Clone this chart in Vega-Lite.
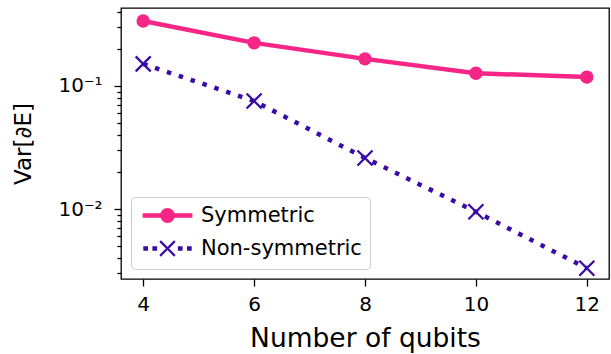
{
  "$schema": "https://vega.github.io/schema/vega-lite/v6.json",
  "autosize": "none",
  "width": 488,
  "height": 271,
  "padding": {"left": 121, "top": 8, "right": 2, "bottom": 75},
  "background": "white",
  "config": {
    "font": "DejaVu Sans",
    "view": {"stroke": "black", "strokeWidth": 1.3},
    "axis": {"domain": false, "grid": false, "tickColor": "black", "tickWidth": 1.3, "labelColor": "black", "titleColor": "black", "labelFont": "DejaVu Sans", "titleFont": "DejaVu Sans", "titleFontWeight": "normal"},
    "legend": {"labelFontSize": 21, "labelFont": "DejaVu Sans", "labelColor": "black", "labelLimit": 0, "symbolSize": 196, "symbolStrokeWidth": 2.2, "symbolOffset": 18, "labelOffset": 23, "rowPadding": 9, "padding": 8, "strokeColor": "#cccccc", "fillColor": "rgba(255,255,255,0.8)", "cornerRadius": 4, "symbolOpacity": 1}
  },
  "data": {"values": [
    {"series": "Symmetric", "qubits": 4, "var": 0.337},
    {"series": "Symmetric", "qubits": 6, "var": 0.224},
    {"series": "Symmetric", "qubits": 8, "var": 0.166},
    {"series": "Symmetric", "qubits": 10, "var": 0.127},
    {"series": "Symmetric", "qubits": 12, "var": 0.118},
    {"series": "Non-symmetric", "qubits": 4, "var": 0.151},
    {"series": "Non-symmetric", "qubits": 6, "var": 0.0755},
    {"series": "Non-symmetric", "qubits": 8, "var": 0.026},
    {"series": "Non-symmetric", "qubits": 10, "var": 0.0095},
    {"series": "Non-symmetric", "qubits": 12, "var": 0.0033}
  ]},
  "encoding": {
    "x": {"field": "qubits", "type": "quantitative",
      "scale": {"domain": [3.6, 12.4], "nice": false, "zero": false},
      "axis": {"values": [4, 6, 8, 10, 12], "title": "Number of qubits", "labelFontSize": 20, "titleFontSize": 26.5, "tickSize": 7, "labelPadding": 8, "titlePadding": 11, "labelFlush": false}},
    "y": {"field": "var", "type": "quantitative",
      "scale": {"type": "log", "domain": [0.0027, 0.43], "nice": false},
      "axis": {
        "values": [0.003, 0.004, 0.005, 0.006, 0.007, 0.008, 0.009, 0.01, 0.02, 0.03, 0.04, 0.05, 0.06, 0.07, 0.08, 0.09, 0.1, 0.2, 0.3, 0.4],
        "labelExpr": "datum.value == 0.1 ? '10⁻¹' : (datum.value == 0.01 ? '10⁻²' : '')",
        "tickSize": {"condition": {"test": "datum.value == 0.1 || datum.value == 0.01", "value": 7}, "value": 4},
        "title": "Var[∂E]", "labelFontSize": 20, "titleFontSize": 23, "labelPadding": 12, "titlePadding": 22}}
  },
  "layer": [
    {"transform": [{"filter": "datum.series == 'Symmetric'"}],
     "mark": {"type": "line", "color": "#F72585", "strokeWidth": 4.5}},
    {"transform": [{"filter": "datum.series == 'Symmetric'"}],
     "mark": {"type": "point", "shape": "circle", "filled": true, "color": "#F72585", "size": 180, "opacity": 1}},
    {"transform": [{"filter": "datum.series == 'Non-symmetric'"}],
     "mark": {"type": "line", "color": "#3A0CA3", "strokeWidth": 4.5, "strokeDash": [4.5, 8], "strokeCap": "butt"}},
    {"transform": [{"filter": "datum.series == 'Non-symmetric'"}],
     "mark": {"type": "point", "shape": "M-1,-1L1,1M-1,1L1,-1", "filled": false, "color": "#3A0CA3", "size": 225, "strokeWidth": 2.3, "opacity": 1}},
    {"transform": [{"filter": "datum.qubits < 0"}],
     "mark": {"type": "point", "filled": true, "opacity": 1},
     "encoding": {
       "x": {"field": "qubits", "type": "quantitative"},
       "y": {"field": "var", "type": "quantitative"},
       "shape": {"field": "series", "type": "nominal",
         "scale": {"domain": ["Symmetric", "Non-symmetric"], "range": [
           "M-3.4,-0.17H3.4V0.17H-3.4Z M-0.9,0A0.9,0.9 0 1,0 0.9,0A0.9,0.9 0 1,0 -0.9,0Z",
           "M-3.3,-0.18H-2.94V0.18H-3.3Z M-2.0,-0.18H-1.64V0.18H-2.0Z M1.64,-0.18H2.0V0.18H1.64Z M2.94,-0.18H3.3V0.18H2.94Z M-1.05,-1.05L1.05,1.05M-1.05,1.05L1.05,-1.05"]},
         "legend": {"title": null, "orient": "bottom-left", "offset": 10}},
       "fill": {"field": "series", "type": "nominal",
         "scale": {"domain": ["Symmetric", "Non-symmetric"], "range": ["#F72585", "#3A0CA3"]},
         "legend": {"title": null, "orient": "bottom-left", "offset": 10}},
       "stroke": {"field": "series", "type": "nominal",
         "scale": {"domain": ["Symmetric", "Non-symmetric"], "range": ["#F72585", "#3A0CA3"]},
         "legend": {"title": null, "orient": "bottom-left", "offset": 10}}
     }}
  ]
}
